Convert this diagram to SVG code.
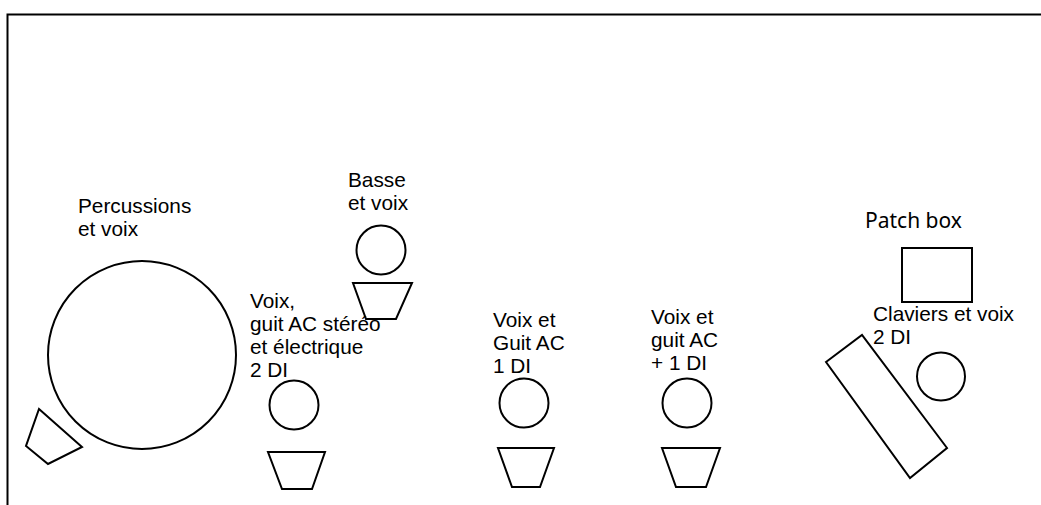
<svg xmlns="http://www.w3.org/2000/svg" width="1041" height="505" viewBox="0 0 1041 505">
<style>
.s{fill:none;stroke:#000;stroke-width:2;stroke-linejoin:miter}
.t{font-family:"Liberation Sans",Arial,sans-serif;font-size:20.8px;fill:#000}
.p{font-family:"Noto Sans","Open Sans",sans-serif;font-size:21px;fill:#000}
</style>
<rect width="1041" height="505" fill="#fff"/>
<g id="border">
<path class="s" d="M7.5,505 V14.5 H1041"/>
</g>
<g id="percussions">
<circle class="s" cx="142" cy="355" r="94"/>
<polygon class="s" points="39,409 82,447 48,464 26,446"/>
<text class="t" x="78" y="213">Percussions</text>
<text class="t" x="78" y="236">et voix</text>
</g>
<g id="basse">
<text class="t" x="348" y="187">Basse</text>
<text class="t" x="348" y="210">et voix</text>
<circle class="s" cx="381" cy="250" r="24.5"/>
<polygon class="s" points="353,283 412,283 396,319 366,319"/>
</g>
<g id="voix-guit-stereo">
<text class="t" x="250" y="308">Voix,</text>
<text class="t" x="250" y="331">guit AC stéréo</text>
<text class="t" x="250" y="354">et électrique</text>
<text class="t" x="250" y="377">2 DI</text>
<circle class="s" cx="294" cy="405" r="24.5"/>
<polygon class="s" points="268,452 325,452 312,489 282,489"/>
</g>
<g id="voix-guit-1di">
<text class="t" x="493" y="327">Voix et</text>
<text class="t" x="493" y="350">Guit AC</text>
<text class="t" x="493" y="373">1 DI</text>
<circle class="s" cx="524" cy="403" r="24.5"/>
<polygon class="s" points="498,448 554,448 540,487 512,487"/>
</g>
<g id="voix-guit-plus1di">
<text class="t" x="651" y="324">Voix et</text>
<text class="t" x="651" y="347">guit AC</text>
<text class="t" x="651" y="370">+ 1 DI</text>
<circle class="s" cx="687" cy="403" r="24.5"/>
<polygon class="s" points="662,448 720,448 706,487 676,487"/>
</g>
<g id="patch-box">
<text class="p" x="865" y="228">Patch box</text>
<rect class="s" x="902" y="248" width="70" height="54"/>
</g>
<g id="claviers">
<text class="t" x="873" y="321">Claviers et voix</text>
<text class="t" x="873" y="344">2 DI</text>
<polygon class="s" points="826,362 862,335 947,448 910,478"/>
<circle class="s" cx="941" cy="376.5" r="24"/>
</g>
<g id="connectors"/>
</svg>
